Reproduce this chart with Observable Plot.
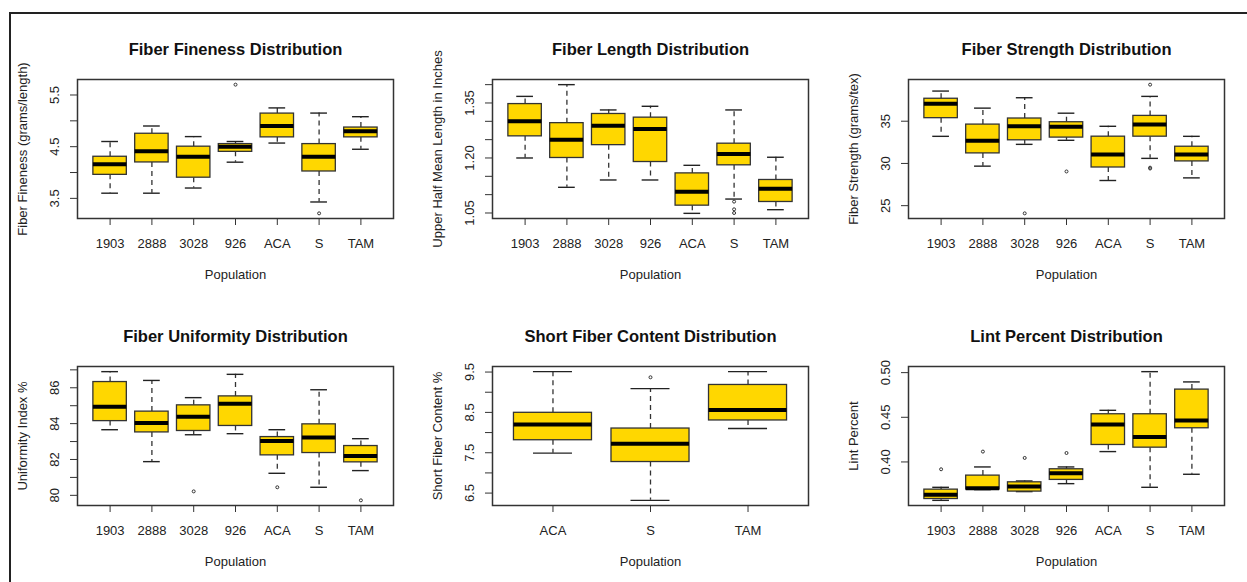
<!DOCTYPE html>
<html>
<head>
<meta charset="utf-8">
<script src="https://cdn.jsdelivr.net/npm/d3@7"></script>
<script src="https://cdn.jsdelivr.net/npm/@observablehq/plot@0.6"></script>
<style>
  body { margin: 0; background: #fff; }
  #wrap { position: relative; width: 1247px; height: 582px; overflow: hidden; background: #fff; }
  .panel { position: absolute; }
  #border { position: absolute; left: 9px; top: 12px; width: 1400px; height: 800px;
            border-top: 2px solid #222; border-left: 2px solid #222; }
</style>
</head>
<body>
<div id="wrap"><div id="border"></div></div>
<script>
// ---------- categories ----------
const populations = ["1903", "2888", "3028", "926", "ACA", "S", "TAM"];
const sfcPopulations = ["ACA", "S", "TAM"];

// ---------- Fiber Fineness ----------
const finenessLo  = [3.60, 3.60, 3.70, 4.20, 4.57, 3.43, 4.45];
const finenessQ1  = [3.955, 4.195, 3.90, 4.40, 4.68, 4.02, 4.68];
const finenessMed = [4.16, 4.41, 4.305, 4.50, 4.90, 4.305, 4.80];
const finenessQ3  = [4.305, 4.75, 4.50, 4.55, 5.14, 4.55, 4.87];
const finenessHi  = [4.60, 4.90, 4.695, 4.60, 5.25, 5.15, 5.08];
const finenessOutPop = ["926", "S"];
const finenessOutVal = [5.70, 3.21];
const finenessTicks = [3.5, 4.0, 4.5, 5.0, 5.5];
const finenessLabels = [3.5, 4.5, 5.5];

// ---------- Fiber Length ----------
const lengthLo  = [1.20, 1.12, 1.14, 1.14, 1.049, 1.088, 1.059];
const lengthQ1  = [1.259, 1.20, 1.235, 1.189, 1.07, 1.18, 1.08];
const lengthMed = [1.30, 1.25, 1.288, 1.279, 1.108, 1.211, 1.116];
const lengthQ3  = [1.347, 1.295, 1.32, 1.31, 1.158, 1.239, 1.14];
const lengthHi  = [1.368, 1.40, 1.331, 1.341, 1.18, 1.331, 1.202];
const lengthOutPop = ["S", "S", "S"];
const lengthOutVal = [1.081, 1.06, 1.05];
const lengthTicks = [1.05, 1.10, 1.15, 1.20, 1.25, 1.30, 1.35, 1.40];
const lengthLabels = [1.05, 1.20, 1.35];

// ---------- Fiber Strength ----------
const strengthLo  = [33.21, 29.68, 32.26, 32.74, 27.98, 30.6, 28.29];
const strengthQ1  = [35.36, 31.19, 32.74, 33.06, 29.52, 33.17, 30.24];
const strengthMed = [37.06, 32.7, 34.40, 34.33, 31.07, 34.6, 31.07];
const strengthQ3  = [37.66, 34.6, 35.32, 34.88, 33.17, 35.63, 31.98];
const strengthHi  = [38.57, 36.55, 37.78, 35.95, 34.40, 37.94, 33.21];
const strengthOutPop = ["3028", "926", "S", "S", "S"];
const strengthOutVal = [24.09, 29.05, 39.33, 29.4, 29.5];
const strengthTicks = [25, 30, 35];
const strengthLabels = [25, 30, 35];

// ---------- Fiber Uniformity ----------
const uniformityLo  = [83.66, 81.88, 83.38, 83.44, 81.23, 80.45, 81.38];
const uniformityQ1  = [84.14, 83.51, 83.59, 83.87, 82.23, 82.36, 81.84];
const uniformityMed = [84.94, 84.03, 84.39, 85.11, 83.03, 83.23, 82.19];
const uniformityQ3  = [86.32, 84.67, 85.02, 85.52, 83.25, 83.96, 82.75];
const uniformityHi  = [86.9, 86.41, 85.45, 86.75, 83.66, 85.89, 83.16];
const uniformityOutPop = ["3028", "ACA", "TAM"];
const uniformityOutVal = [80.22, 80.45, 79.72];
const uniformityTicks = [80, 81, 82, 83, 84, 85, 86, 87];
const uniformityLabels = [80, 82, 84, 86];

// ---------- Short Fiber Content ----------
const sfcLo  = [7.49, 6.32, 8.10];
const sfcQ1  = [7.81, 7.27, 8.30];
const sfcMed = [8.20, 7.72, 8.56];
const sfcQ3  = [8.49, 8.10, 9.18];
const sfcHi  = [9.51, 9.09, 9.51];
const sfcOutPop = ["S"];
const sfcOutVal = [9.37];
const sfcTicks = [6.5, 7.0, 7.5, 8.0, 8.5, 9.0, 9.5];
const sfcLabels = [6.5, 7.5, 8.5, 9.5];

// ---------- Lint Percent ----------
const lintLo  = [0.357, 0.369, 0.3668, 0.3757, 0.4116, 0.3716, 0.3862];
const lintQ1  = [0.3585, 0.3692, 0.3668, 0.3799, 0.419, 0.416, 0.4377];
const lintMed = [0.3634, 0.3705, 0.3724, 0.3873, 0.4418, 0.428, 0.4463];
const lintQ3  = [0.369, 0.3847, 0.3772, 0.3918, 0.4534, 0.4534, 0.481];
const lintHi  = [0.3716, 0.3944, 0.3787, 0.3944, 0.4578, 0.5011, 0.4896];
const lintOutPop = ["1903", "2888", "3028", "926"];
const lintOutVal = [0.3918, 0.4116, 0.4045, 0.410];
const lintTicks = [0.40, 0.45, 0.50];
const lintLabels = [0.40, 0.45, 0.50];

// ---------- panel definitions ----------
const panels = [
  {title: "Fiber Fineness Distribution", ylab: "Fiber Fineness (grams/length)", cats: populations,
   lo: finenessLo, q1: finenessQ1, med: finenessMed, q3: finenessQ3, hi: finenessHi,
   outPop: finenessOutPop, outVal: finenessOutVal, ticks: finenessTicks, labels: finenessLabels, fmt: ".1f"},
  {title: "Fiber Length Distribution", ylab: "Upper Half Mean Length in Inches", cats: populations,
   lo: lengthLo, q1: lengthQ1, med: lengthMed, q3: lengthQ3, hi: lengthHi,
   outPop: lengthOutPop, outVal: lengthOutVal, ticks: lengthTicks, labels: lengthLabels, fmt: ".2f"},
  {title: "Fiber Strength Distribution", ylab: "Fiber Strength (grams/tex)", cats: populations,
   lo: strengthLo, q1: strengthQ1, med: strengthMed, q3: strengthQ3, hi: strengthHi,
   outPop: strengthOutPop, outVal: strengthOutVal, ticks: strengthTicks, labels: strengthLabels, fmt: "d"},
  {title: "Fiber Uniformity Distribution", ylab: "Uniformity Index %", cats: populations,
   lo: uniformityLo, q1: uniformityQ1, med: uniformityMed, q3: uniformityQ3, hi: uniformityHi,
   outPop: uniformityOutPop, outVal: uniformityOutVal, ticks: uniformityTicks, labels: uniformityLabels, fmt: "d"},
  {title: "Short Fiber Content Distribution", ylab: "Short Fiber Content %", cats: sfcPopulations,
   lo: sfcLo, q1: sfcQ1, med: sfcMed, q3: sfcQ3, hi: sfcHi,
   outPop: sfcOutPop, outVal: sfcOutVal, ticks: sfcTicks, labels: sfcLabels, fmt: ".1f"},
  {title: "Lint Percent Distribution", ylab: "Lint Percent", cats: populations,
   lo: lintLo, q1: lintQ1, med: lintMed, q3: lintQ3, hi: lintHi,
   outPop: lintOutPop, outVal: lintOutVal, ticks: lintTicks, labels: lintLabels, fmt: ".2f"}
];

const W = 415, H = 287, ML = 77, MR = 22, MT = 79, MB = 69;
const frameW = W - ML - MR;
const FONT = "'Liberation Sans', Arial, Helvetica, sans-serif";
const ink = "#222";

function makePanel(p) {
  const n = p.cats.length;
  const rows = p.cats.map((c, i) => ({pop: c, lo: p.lo[i], q1: p.q1[i], med: p.med[i], q3: p.q3[i], hi: p.hi[i]}));
  const outs = p.outPop.map((c, i) => ({pop: c, v: p.outVal[i]}));
  const allVals = [...p.lo, ...p.hi, ...p.outVal];
  const mn = d3.min(allVals), mx = d3.max(allVals), pad = (mx - mn) * 0.04;
  const padOuter = 0.1 + 0.04 * n;
  const bw = frameW * 0.8 / (n - 0.2 + 2 * padOuter);
  const capInset = bw / 4;
  const f = d3.format(p.fmt);
  const isLabel = d => p.labels.some(l => Math.abs(l - d) < 1e-9);

  return Plot.plot({
    width: W, height: H,
    marginLeft: ML, marginRight: MR, marginTop: MT, marginBottom: MB,
    style: {fontFamily: FONT, fontSize: "13px", background: "transparent", color: ink, overflow: "visible"},
    x: {type: "band", domain: p.cats, paddingInner: 0.2, paddingOuter: padOuter, align: 0.5, round: false},
    y: {domain: [mn - pad, mx + pad]},
    marks: [
      Plot.ruleX(rows, {x: "pop", y1: "q3", y2: "hi", stroke: "#333", strokeWidth: 1.3, strokeDasharray: "5,4"}),
      Plot.ruleX(rows, {x: "pop", y1: "q1", y2: "lo", stroke: "#333", strokeWidth: 1.3, strokeDasharray: "5,4"}),
      Plot.tickY(rows, {x: "pop", y: "hi", stroke: "#222", strokeWidth: 1.4, insetLeft: capInset, insetRight: capInset}),
      Plot.tickY(rows, {x: "pop", y: "lo", stroke: "#222", strokeWidth: 1.4, insetLeft: capInset, insetRight: capInset}),
      Plot.barY(rows, {x: "pop", y1: "q1", y2: "q3", fill: "#FFD700", stroke: "#333", strokeWidth: 1.3}),
      Plot.tickY(rows, {x: "pop", y: "med", stroke: "#000", strokeWidth: 4}),
      Plot.dot(outs, {x: "pop", y: "v", r: 1.5, stroke: "#333", strokeWidth: 1, fill: "none"}),
      Plot.frame({stroke: "#333", strokeWidth: 1.5}),
      Plot.axisX({tickSize: 7, tickPadding: 13, label: null, fontSize: 13, fill: ink, stroke: "#333"}),
      Plot.axisY({ticks: p.ticks, tickSize: 7, tickPadding: 12, tickRotate: -90, label: null,
                  tickFormat: d => isLabel(d) ? f(d) : "", fontSize: 13, fill: ink, stroke: "#333"}),
      Plot.text([p.title], {frameAnchor: "top", dy: -30, textAnchor: "middle", lineAnchor: "middle",
                            fontSize: 16.5, fontWeight: "bold", fill: "#111"}),
      Plot.text([p.ylab], {frameAnchor: "left", dx: -55, rotate: -90, textAnchor: "middle", lineAnchor: "middle",
                           fontSize: 13, fill: ink}),
      Plot.text(["Population"], {frameAnchor: "bottom", dy: 56, textAnchor: "middle", lineAnchor: "middle",
                                 fontSize: 13, fill: ink})
    ]
  });
}

const wrap = document.getElementById("wrap");
panels.forEach((p, k) => {
  const r = Math.floor(k / 3), c = k % 3;
  const div = document.createElement("div");
  div.className = "panel";
  div.style.left = (c * 415.33) + "px";
  div.style.top = (r * 287) + "px";
  div.appendChild(makePanel(p));
  wrap.appendChild(div);
});
</script>
</body>
</html>
